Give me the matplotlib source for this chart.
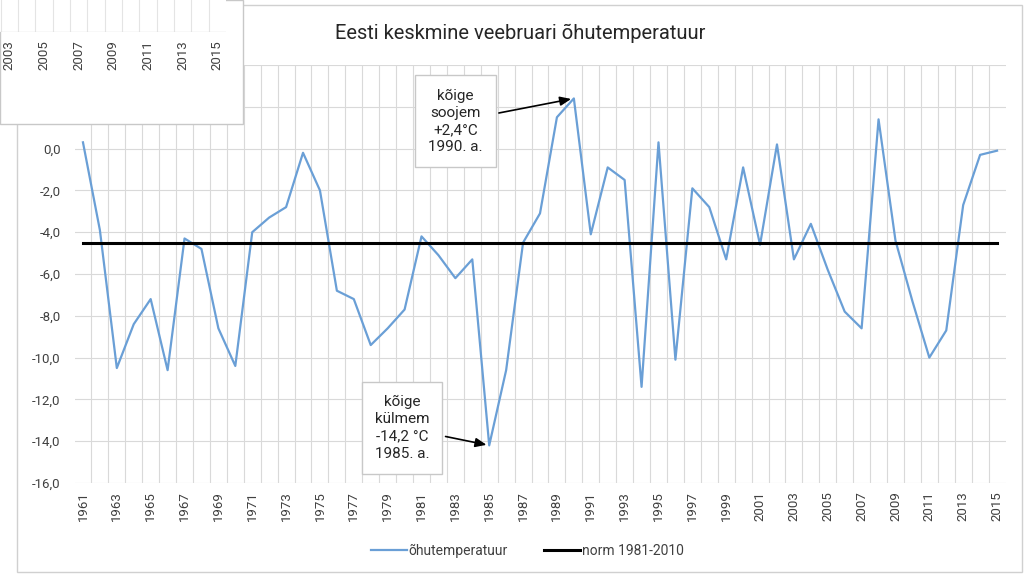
import matplotlib
matplotlib.use("Agg")
import matplotlib.pyplot as plt
from matplotlib.patches import Rectangle
from matplotlib.ticker import FuncFormatter, MultipleLocator

plt.rcParams["font.family"] = ["Roboto", "DejaVu Sans"]

# --------------------------------------------------------
# Data: mean February air temperature in Estonia
# --------------------------------------------------------
years = list(range(1961, 2016))
temps = [
    0.3, -3.9, -10.5, -8.4, -7.2, -10.6, -4.3, -4.8, -8.6, -10.4,
    -4.0, -3.3, -2.8, -0.2, -2.0, -6.8, -7.2, -9.4, -8.6, -7.7,
    -4.2, -5.1, -6.2, -5.3, -14.2, -10.6, -4.5, -3.1, 1.5, 2.4,
    -4.1, -0.9, -1.5, -11.4, 0.3, -10.1, -1.9, -2.8, -5.3, -0.9,
    -4.6, 0.2, -5.3, -3.6, -5.8, -7.8, -8.6, 1.4, -4.4, -7.3,
    -10.0, -8.7, -2.7, -0.3, -0.1,
]
norm_value = -4.5
norm = [norm_value] * len(years)

title = "Eesti keskmine veebruari õhutemperatuur"
series_label = "õhutemperatuur"
norm_label = "norm 1981-2010"
warm_text = "kõige\nsoojem\n+2,4°C\n1990. a."
cold_text = "kõige\nkülmem\n-14,2 °C\n1985. a."

# fragment of a neighbouring chart, top left
inset_years = list(range(2003, 2016, 2))

BLUE = "#6a9fd6"
GRID = "#d9d9d9"
TEXT = "#404040"


def comma_fmt(v, pos):
    # labels above 0 sit under the overlapping chart piece
    if v > 0:
        return ""
    return f"{v:.1f}".replace(".", ",")


def create_chart():
    fig = plt.figure(figsize=(10.24, 5.76), dpi=100)

    # outer chart border
    fig.patches.append(Rectangle((17 / 1024, 1 - 572 / 576), (1022 - 17) / 1024,
                                 (572 - 5) / 576, transform=fig.transFigure,
                                 fill=False, edgecolor="#d0d0d0", lw=1, zorder=0))

    ax = fig.add_axes([74.5 / 1024, 1 - 483 / 576, (1005.5 - 74.5) / 1024,
                       (483 - 65) / 576])

    ax.plot(years, temps, color=BLUE, lw=1.6, label=series_label, zorder=3)
    ax.plot(years, norm, color="black", lw=2.2, label=norm_label, zorder=4)

    ax.set_xlim(years[0] - 0.5, years[-1] + 0.5)
    ax.set_ylim(-16, 4)
    ax.set_xticks(years[::2])
    ax.set_xticks([y + 0.5 for y in years[:-1]], minor=True)
    ax.yaxis.set_major_locator(MultipleLocator(2))
    ax.yaxis.set_major_formatter(FuncFormatter(comma_fmt))
    ax.tick_params(axis="x", which="both", length=0, rotation=90,
                   labelsize=9.5, labelcolor=TEXT, pad=6)
    ax.tick_params(axis="y", length=0, labelsize=9.5, labelcolor=TEXT, pad=10)
    ax.grid(axis="x", which="minor", color=GRID, lw=0.8)
    ax.grid(axis="y", which="major", color=GRID, lw=0.8)
    for s in ax.spines.values():
        s.set_visible(False)

    fig.text(0.508, 1 - 33 / 576, title, ha="center", va="center",
             fontsize=14.5, color="#262626")

    # --------------------------------------------------------
    # Annotations for warmest and coldest year
    # --------------------------------------------------------
    box = dict(boxstyle="square,pad=0.85", fc="white", ec="#c8c8c8", lw=1)
    arrow = dict(arrowstyle="-|>,head_length=0.6,head_width=0.25",
                 color="black", lw=1.2, shrinkB=2)
    i_max = temps.index(max(temps))
    i_min = temps.index(min(temps))
    ax.annotate(warm_text, xy=(years[i_max], temps[i_max]), xytext=(1983.0, 1.3),
                ha="center", va="center", fontsize=11, linespacing=1.3,
                color="#262626", bbox=box, arrowprops=arrow, zorder=6)
    ax.annotate(cold_text, xy=(years[i_min], temps[i_min]), xytext=(1979.85, -13.35),
                ha="center", va="center", fontsize=11, linespacing=1.3,
                color="#262626", bbox=box, arrowprops=arrow, zorder=6)

    fig.legend(loc="center", bbox_to_anchor=(0.515, 1 - 551 / 576), ncol=2,
               frameon=False, fontsize=10, handlelength=2.6, handletextpad=0.1,
               columnspacing=2.6, labelcolor=TEXT)

    # --------------------------------------------------------
    # Overlapping piece of another chart (top left)
    # --------------------------------------------------------
    fig.patches.append(Rectangle((0, 1 - 124 / 576), 243 / 1024, 124 / 576,
                                 transform=fig.transFigure, fc="white",
                                 ec="#c8c8c8", lw=1, zorder=5))
    ins = fig.add_axes([0, 1 - 32 / 576, 226 / 1024, 32 / 576], zorder=6)
    ins.set_facecolor("white")
    ins.set_xlim(2002.46, 2015.5)
    ins.set_ylim(0, 1)
    ins.set_xticks(inset_years)
    ins.set_xticks([y + 0.5 for y in range(2002, 2015)], minor=True)
    ins.set_yticks([])
    ins.tick_params(axis="x", which="both", length=0, rotation=90,
                    labelsize=9.5, labelcolor=TEXT, pad=6)
    ins.grid(axis="x", which="minor", color="#e4e4e4", lw=0.8)
    for s in ins.spines.values():
        s.set_visible(False)
    ins.axhline(0, color="#dcdcdc", lw=1)

    fig.savefig("out.png", dpi=100)
    plt.close(fig)


if __name__ == "__main__":
    create_chart()
